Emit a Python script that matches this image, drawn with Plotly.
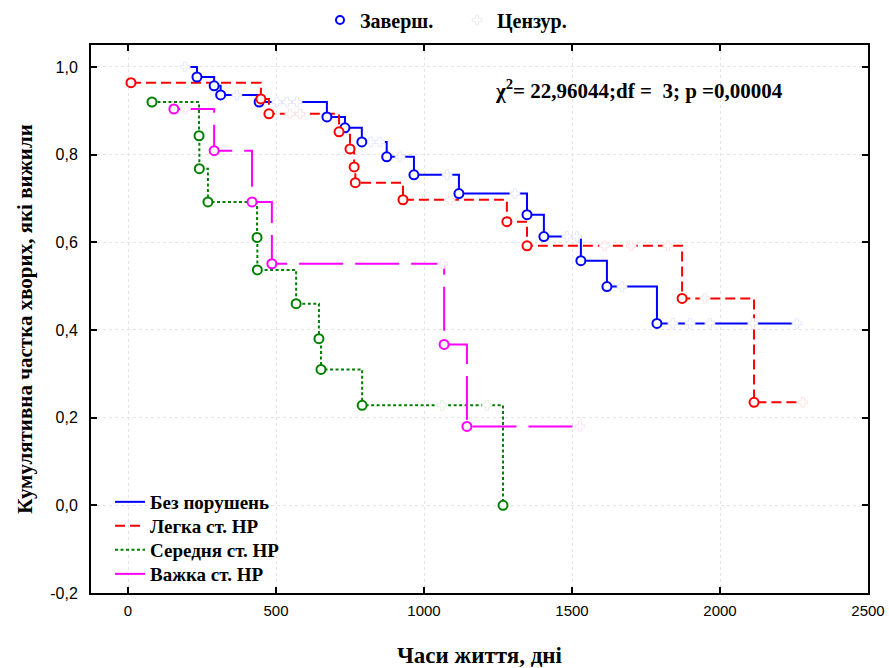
import plotly.graph_objects as go

# ---------------- data ----------------
x_tick_vals = [0, 500, 1000, 1500, 2000, 2500]
x_tick_text = ["0", "500", "1000", "1500", "2000", "2500"]
y_tick_vals = [-0.2, 0.0, 0.2, 0.4, 0.6, 0.8, 1.0]
y_tick_text = ["-0,2", "0,0", "0,2", "0,4", "0,6", "0,8", "1,0"]

group_names = ["Без порушень", "Легка ст. НР", "Середня ст. НР", "Важка ст. НР"]
group_colors = ["#0000ff", "#ff0000", "#008000", "#ff00ff"]
censor_colors = ["#e6e8ff", "#ffe4e4", "#e0f2e0", "#ffe2ff"]
group_dashes = ["solid", "10px,5px", "3px,2.5px", "44px,12px"]

# Без порушень
blue_event_t = [233, 291, 313, 443, 672, 733, 790, 874, 966, 1118, 1348, 1405, 1530, 1618, 1787]
blue_event_s = [0.977, 0.957, 0.936, 0.920, 0.886, 0.861, 0.829, 0.795, 0.754, 0.711, 0.663, 0.613, 0.558, 0.499, 0.415]
blue_cens_t = [193, 368, 503, 537, 571, 820, 850, 919, 1078, 1307, 1483, 1517, 1669, 1841, 1899, 1966, 2111, 2260]
blue_cens_s = [1.0, 0.936, 0.920, 0.920, 0.920, 0.829, 0.829, 0.795, 0.754, 0.711, 0.613, 0.613, 0.499, 0.415, 0.415, 0.415, 0.415, 0.415]

# Легка ст. НР
red_event_t = [10, 449, 476, 713, 750, 764, 768, 929, 1280, 1348, 1872, 2115]
red_event_s = [0.964, 0.927, 0.893, 0.852, 0.813, 0.772, 0.736, 0.697, 0.647, 0.592, 0.472, 0.235]
red_cens_t = [547, 581, 1088, 1610, 1700, 1824, 1949, 2280]
red_cens_s = [0.893, 0.893, 0.697, 0.592, 0.592, 0.592, 0.472, 0.235]

# Середня ст. НР
green_event_t = [81, 240, 241, 270, 436, 437, 568, 645, 652, 791, 1267]
green_event_s = [0.920, 0.843, 0.768, 0.692, 0.611, 0.537, 0.460, 0.380, 0.310, 0.228, 0.0]
green_cens_t = [1061, 1213]
green_cens_s = [0.228, 0.228]

# Важка ст. НР
mag_event_t = [155, 291, 419, 486, 1068, 1145]
mag_event_s = [0.904, 0.809, 0.692, 0.551, 0.367, 0.180]
mag_cens_t = [194, 1063, 1527]
mag_cens_s = [0.904, 0.551, 0.180]

chi_text = "χ<sup>2</sup>= 22,96044;df =\u00a0\u00a03; p =0,00004"

groups = [
    (blue_event_t, blue_event_s, blue_cens_t, blue_cens_s),
    (red_event_t, red_event_s, red_cens_t, red_cens_s),
    (green_event_t, green_event_s, green_cens_t, green_cens_s),
    (mag_event_t, mag_event_s, mag_cens_t, mag_cens_s),
]

SERIF = "Liberation Serif, Times New Roman, serif"
SANS = "Liberation Sans, Arial, sans-serif"

fig = go.Figure()

# step lines
for i, (et, es, ct, cs) in enumerate(groups):
    pts = sorted([(t, s, 0) for t, s in zip(et, es)] + [(t, s, 1) for t, s in zip(ct, cs)],
                 key=lambda p: (p[0], p[2]))
    fig.add_trace(go.Scatter(
        x=[p[0] for p in pts], y=[p[1] for p in pts], mode="lines",
        line=dict(color=group_colors[i], width=2, dash=group_dashes[i], shape="hv"),
        showlegend=False, hoverinfo="skip"))

# censored marks
for i, (et, es, ct, cs) in enumerate(groups):
    fig.add_trace(go.Scatter(
        x=ct, y=cs, mode="markers",
        marker=dict(symbol="cross", size=8, color="white",
                    line=dict(color=censor_colors[i], width=1)),
        showlegend=False, hoverinfo="skip"))

# complete events
for i, (et, es, ct, cs) in enumerate(groups):
    fig.add_trace(go.Scatter(
        x=et, y=es, mode="markers",
        marker=dict(symbol="circle", size=9, color="white",
                    line=dict(color=group_colors[i], width=2)),
        showlegend=False, hoverinfo="skip"))

# bottom-left legend (line styles), one legend box per row for exact spacing
line_legend_ids = ["legend", "legend3", "legend4", "legend5"]
line_legend_rows = [502, 526, 550, 574]
for i in range(4):
    fig.add_trace(go.Scatter(
        x=[None], y=[None], mode="lines", name="<b>%s</b>" % group_names[i],
        line=dict(color=group_colors[i], width=2, dash=group_dashes[i] if i != 3 else "solid"),
        legend=line_legend_ids[i]))

# top legend (marker types)
fig.add_trace(go.Scatter(
    x=[None], y=[None], mode="markers", name="<b>Заверш.</b>",
    marker=dict(symbol="circle", size=8, color="white", line=dict(color="#0000ff", width=2)),
    legend="legend2"))
fig.add_trace(go.Scatter(
    x=[None], y=[None], mode="markers", name="<b>Цензур.</b>",
    marker=dict(symbol="cross", size=8, color="white", line=dict(color="#ececec", width=1)),
    legend="legend2"))

fig.add_annotation(
    x=1232, y=0.948, xref="x", yref="y", xanchor="left", yanchor="middle",
    text="<b>%s</b>" % chi_text, showarrow=False,
    font=dict(family=SERIF, size=21, color="black"))

axis_common = dict(
    showline=True, linewidth=2, linecolor="black", mirror="ticks",
    ticks="inside", ticklen=6, tickwidth=1.5, tickcolor="black",
    showgrid=True, gridcolor="#e4e4e4", griddash="dot", gridwidth=1,
    zeroline=False, automargin=False,
)

legend_layout = {}
for lid, row in zip(line_legend_ids, line_legend_rows):
    legend_layout[lid] = dict(
        x=(110 - 91) / 777, y=(593 - row) / 548, xref="paper", yref="paper",
        xanchor="left", yanchor="middle", bgcolor="rgba(0,0,0,0)",
        font=dict(family=SERIF, size=19, color="black"), itemwidth=30)

fig.update_layout(
    width=889, height=668,
    margin=dict(l=91, r=21, t=45, b=75, autoexpand=False),
    paper_bgcolor="white", plot_bgcolor="white",
    xaxis=dict(range=[-125, 2500], tickvals=x_tick_vals, ticktext=x_tick_text,
               tickfont=dict(family=SANS, size=15, color="black"), ticklabelstandoff=3,
               title=dict(text="<b>Часи життя, дні</b>", standoff=30,
                          font=dict(family=SERIF, size=23, color="black")),
               **axis_common),
    yaxis=dict(range=[-0.2, 1.05], tickvals=y_tick_vals, ticktext=y_tick_text,
               tickfont=dict(family=SANS, size=16, color="black"), ticklabelstandoff=8,
               title=dict(text="<b>Кумулятивна частка хворих, які вижили</b>", standoff=12,
                          font=dict(family=SERIF, size=21, color="black")),
               **axis_common),
    legend2=dict(orientation="h", x=(320 - 91) / 777, y=1 - 20 / 668, xref="paper", yref="container",
                 xanchor="left", yanchor="middle", entrywidth=92,
                 bgcolor="rgba(0,0,0,0)", font=dict(family=SERIF, size=20, color="black")),
    showlegend=True,
    **legend_layout,
)

fig.write_html("out.html", config={"displayModeBar": False},
               post_script="document.body.style.margin='0';")
